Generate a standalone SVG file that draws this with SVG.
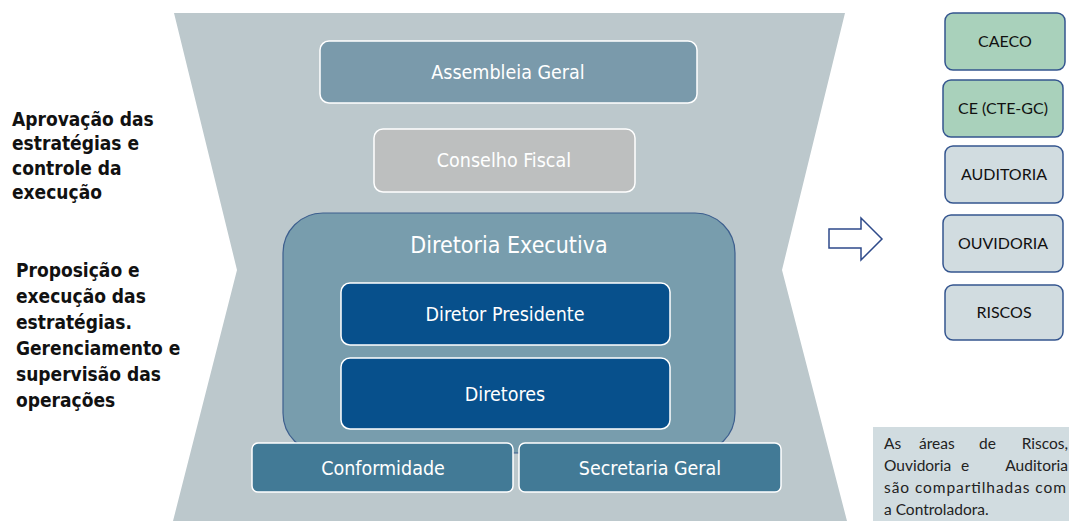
<svg xmlns="http://www.w3.org/2000/svg" width="1069" height="521" viewBox="0 0 1069 521">
<style>
.bt{font-family:"DejaVu Sans Condensed","DejaVu Sans",sans-serif;fill:#ffffff;text-anchor:middle;font-size:19.5px}
.big{font-size:23px}
.rt{font-family:Lato,"Open Sans","Liberation Sans",sans-serif;font-size:16px;fill:#111111;text-anchor:middle}
.side{font-family:"DejaVu Sans Condensed","DejaVu Sans",sans-serif;font-weight:bold;font-size:19px;fill:#111111}
.note{font-family:Lato,"Open Sans","Liberation Sans",sans-serif;font-size:15.5px;fill:#222222}
.end{text-anchor:end}
.wb{stroke:#ffffff;stroke-width:1.5}
.rb{fill:#d1dce0;stroke:#34558f;stroke-width:1.5}
.gb{fill:#a9d1bb;stroke:#34558f;stroke-width:1.5}
</style>
<rect width="1069" height="521" fill="#ffffff"/>
<path d="M174,13 L845,13 L782,270 L847,521 L173,521 L237,270 Z" fill="#bcc8cc"/>
<g id="side-text">
<text class="side" x="12" y="126">Aprovação das</text>
<text class="side" x="12" y="150">estratégias e</text>
<text class="side" x="12" y="175">controle da</text>
<text class="side" x="12" y="199">execução</text>
<text class="side" x="16" y="277">Proposição e</text>
<text class="side" x="16" y="303">execução das</text>
<text class="side" x="16" y="329">estratégias.</text>
<text class="side" x="16" y="355">Gerenciamento e</text>
<text class="side" x="16" y="381">supervisão das</text>
<text class="side" x="16" y="407">operações</text>
</g>
<g id="assembleia">
<rect x="320" y="41" width="377" height="62" rx="9" fill="#7a9aab" class="wb"/>
<text class="bt" x="508" y="79">Assembleia Geral</text>
</g>
<g id="conselho">
<rect x="374" y="129" width="261" height="63" rx="9" fill="#bdbfbf" class="wb"/>
<text class="bt" x="504" y="167">Conselho Fiscal</text>
</g>
<g id="diretoria">
<rect x="283" y="213" width="452" height="240" rx="40" fill="#789dad" stroke="#3d5f8e" stroke-width="1.2"/>
<text class="bt big" x="509" y="253">Diretoria Executiva</text>
</g>
<g id="presidente">
<rect x="341" y="283" width="329" height="62" rx="9" fill="#07508c" class="wb"/>
<text class="bt" x="505" y="321">Diretor Presidente</text>
</g>
<g id="diretores">
<rect x="341" y="358" width="329" height="71" rx="9" fill="#07508c" class="wb"/>
<text class="bt" x="505" y="401">Diretores</text>
</g>
<g id="conformidade">
<rect x="252" y="443" width="261" height="49" rx="6" fill="#427a96" class="wb"/>
<text class="bt" x="383" y="475">Conformidade</text>
</g>
<g id="secretaria">
<rect x="519" y="443" width="262" height="49" rx="6" fill="#427a96" class="wb"/>
<text class="bt" x="650" y="475">Secretaria Geral</text>
</g>
<g id="connectors">
<path d="M829,229 L861,229 L861,218 L882,239 L861,260 L861,248 L829,248 Z" fill="#ffffff" stroke="#2e4a8a" stroke-width="1.5"/>
</g>
<g id="caeco">
<rect x="945" y="13" width="120" height="57" rx="8" class="gb"/>
<text class="rt" x="1005" y="47">CAECO</text>
</g>
<g id="ce">
<rect x="943" y="80" width="120" height="57" rx="8" class="gb"/>
<text class="rt" x="1003" y="114">CE (CTE-GC)</text>
</g>
<g id="auditoria">
<rect x="945" y="146" width="118" height="57" rx="8" class="rb"/>
<text class="rt" x="1004" y="180">AUDITORIA</text>
</g>
<g id="ouvidoria">
<rect x="943" y="215" width="120" height="57" rx="8" class="rb"/>
<text class="rt" x="1003" y="249">OUVIDORIA</text>
</g>
<g id="riscos">
<rect x="945" y="285" width="118" height="55" rx="8" class="rb"/>
<text class="rt" x="1004" y="318">RISCOS</text>
</g>
<g id="nota">
<rect x="873" y="427" width="200" height="100" fill="#d1dce0"/>
<text class="note" y="449"><tspan x="884">As</tspan> <tspan x="919">áreas</tspan> <tspan x="979">de</tspan></text>
<text class="note end" x="1068" y="449">Riscos,</text>
<text class="note" y="471"><tspan x="884">Ouvidoria</tspan> <tspan x="961">e</tspan></text>
<text class="note end" x="1068" y="471">Auditoria</text>
<text class="note" x="884" y="493" textLength="182" lengthAdjust="spacing">são compartilhadas com</text>
<text class="note" x="884" y="515">a Controladora.</text>
</g>
</svg>
